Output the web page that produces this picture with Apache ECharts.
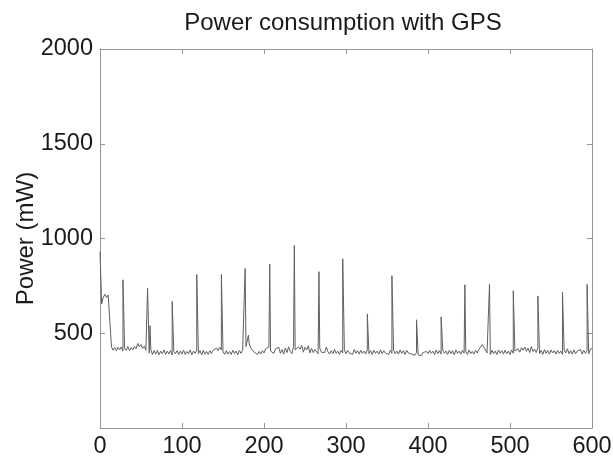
<!DOCTYPE html>
<html>
<head>
<meta charset="utf-8">
<script src="https://cdn.jsdelivr.net/npm/echarts@6/dist/echarts.min.js"></script>
<style>
html,body{margin:0;padding:0;background:#fff;}
#chart{width:613px;height:457px;}
</style>
</head>
<body>
<div id="chart"></div>
<script>
// Baseline power readings, one every 2 s from t = 0 to t = 600 (mW)
const baseStep = 2;
const baselinePower = [
  930, 655, 690, 705, 688, 702, 692, 428, 410, 424,
  408, 426, 412, 428, 406, 422, 410, 430, 408, 424,
  412, 430, 418, 446, 428, 440, 420, 432, 410, 418,
  396, 414, 388, 408, 390, 410, 386, 406, 392, 412,
  388, 406, 390, 410, 386, 404, 392, 408, 388, 406,
  390, 410, 388, 404, 392, 412, 386, 406, 394, 410,
  392, 408, 386, 410, 390, 404, 388, 408, 392, 410,
  404, 422, 408, 426, 412, 402, 388, 408, 390, 404,
  388, 410, 392, 406, 386, 408, 394, 412, 408, 430,
  426, 444, 422, 430, 400, 408, 388, 404, 390, 408,
  396, 418, 410, 428, 406, 412, 394, 418, 410, 426,
  394, 414, 390, 422, 398, 428, 404, 392, 430, 412,
  404, 428, 416, 436, 400, 426, 412, 434, 396, 420,
  398, 414, 404, 392, 422, 400, 410, 398, 428, 402,
  390, 408, 392, 414, 394, 406, 388, 410, 396, 412,
  392, 410, 396, 406, 388, 414, 394, 408, 390, 410,
  394, 406, 390, 412, 392, 408, 388, 410, 394, 406,
  390, 412, 392, 408, 396, 404, 388, 410, 394, 412,
  392, 406, 390, 412, 394, 408, 388, 410, 396, 406,
  390, 400, 384, 398, 386, 396, 382, 398, 388, 404,
  392, 410, 394, 406, 388, 412, 392, 408, 390, 410,
  394, 406, 388, 410, 392, 408, 386, 412, 394, 406,
  390, 410, 394, 406, 388, 412, 392, 404, 390, 410,
  396, 414, 420, 440, 428, 418, 396, 406, 388, 410,
  392, 406, 388, 412, 394, 408, 390, 410, 392, 406,
  388, 412, 394, 406, 396, 418, 400, 424, 410, 428,
  404, 422, 398, 430, 404, 416, 398, 424, 392, 410,
  388, 414, 394, 410, 390, 412, 396, 408, 390, 410,
  394, 406, 388, 412, 396, 418, 392, 408, 390, 412,
  392, 406, 396, 414, 390, 410, 394, 408, 392, 416,
  420
];

// Short spikes (GPS fixes): time (s) and peak power (mW)
const spikeTimes = [28, 58, 61, 88, 118, 148, 177, 181, 207, 237, 267, 296, 326, 356, 386, 416, 445, 475, 504, 534, 564, 594];
const spikePeaks = [782, 738, 540, 668, 810, 810, 842, 490, 865, 963, 825, 893, 602, 804, 571, 586, 756, 758, 724, 697, 716, 758];

// Axis tick values
const xTicks = [0, 100, 200, 300, 400, 500, 600];
const yTicks = [0, 500, 1000, 1500, 2000];

// Merge baseline and spikes into one time-ordered trace
const trace = [];
let s = 0;
for (let i = 0; i < baselinePower.length; i++) {
  const t = i * baseStep;
  trace.push([t, baselinePower[i]]);
  const tNext = (i + 1) * baseStep;
  while (s < spikeTimes.length && spikeTimes[s] >= t && spikeTimes[s] < tNext) {
    trace.push([spikeTimes[s], spikePeaks[s]]);
    s++;
  }
}

const font = 'Liberation Sans, Arial, Helvetica, sans-serif';
const axisGray = '#959595';
const textCol = '#1a1a1a';
const fs = 24;
const tickFs = 23.5;

function boxAxis(extra) {
  return Object.assign({
    type: 'value',
    axisLine: {show: true, onZero: false, lineStyle: {color: axisGray, width: 1}},
    axisTick: {show: true, inside: true, length: 5, lineStyle: {color: axisGray}},
    splitLine: {show: false}
  }, extra);
}

const chart = echarts.init(document.getElementById('chart'), null, {renderer: 'canvas'});
chart.setOption({
  animation: false,
  backgroundColor: '#ffffff',
  title: {
    text: 'Power consumption with GPS',
    left: 338,
    top: 6,
    textAlign: 'center',
    textStyle: {fontFamily: font, fontSize: fs, fontWeight: 'normal', color: textCol}
  },
  grid: {left: 100, right: 21, top: 49, bottom: 29, containLabel: false, outerBoundsMode: 'none'},
  xAxis: [
    boxAxis({
      min: xTicks[0], max: xTicks[xTicks.length - 1], interval: 100,
      axisLabel: {fontFamily: font, fontSize: tickFs, color: textCol, margin: 7}
    }),
    boxAxis({
      position: 'top',
      min: xTicks[0], max: xTicks[xTicks.length - 1], interval: 100,
      axisLabel: {show: false}
    })
  ],
  yAxis: [
    boxAxis({
      min: yTicks[0], max: yTicks[yTicks.length - 1], interval: 500,
      name: 'Power (mW)',
      nameLocation: 'middle',
      nameGap: 62,
      nameMoveOverlap: false,
      nameTextStyle: {fontFamily: font, fontSize: fs, color: textCol},
      axisLabel: {fontFamily: font, fontSize: tickFs, color: textCol, margin: 7,
        formatter: v => (v === 0 ? '' : String(v))}
    }),
    boxAxis({
      position: 'right',
      min: yTicks[0], max: yTicks[yTicks.length - 1], interval: 500,
      axisLabel: {show: false}
    })
  ],
  series: [{
    type: 'line',
    data: trace,
    xAxisIndex: 0, yAxisIndex: 0,
    showSymbol: false,
    symbol: 'none',
    lineStyle: {color: '#606060', width: 1},
    z: 3
  }]
});
</script>
</body>
</html>
